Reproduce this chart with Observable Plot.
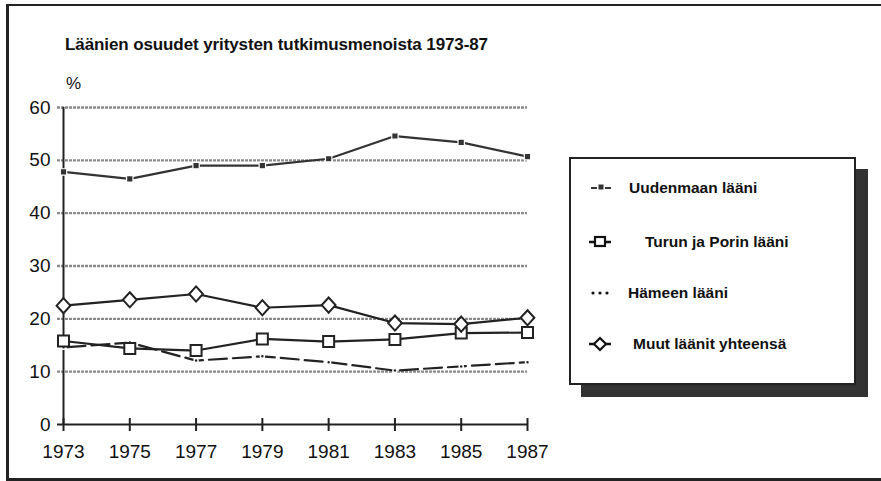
<!DOCTYPE html>
<html>
<head>
<meta charset="utf-8">
<script src="https://cdn.jsdelivr.net/npm/d3@7"></script>
<script src="https://cdn.jsdelivr.net/npm/@observablehq/plot@0.6"></script>
<style>
  html, body { margin: 0; padding: 0; background: #fff; overflow: hidden; }
  #wrap { position: relative; width: 881px; height: 481px; overflow: hidden; font-family: "Liberation Sans", Arial, sans-serif; color: #111; }
  #frame { position: absolute; left: 6px; top: 4px; width: 900px; height: 472px; border: 2px solid #222; border-left-width: 3px; border-bottom-width: 3px; }
  #title { position: absolute; left: 65px; top: 35px; font-weight: bold; font-size: 17px; white-space: nowrap; letter-spacing: -0.1px; }
  #pct { position: absolute; left: 66px; top: 74px; font-size: 17px; }
  #chart { position: absolute; left: 0; top: 0; }
  #shadow { position: absolute; left: 581px; top: 169px; width: 287px; height: 228px; background: #333; }
  #legend { position: absolute; left: 569px; top: 157px; width: 283px; height: 224px; border: 2px solid #222; background: #fff; }
  .item { position: absolute; font-weight: bold; font-size: 15.5px; white-space: nowrap; }
  .item svg { position: absolute; left: -44px; top: -2px; }
</style>
</head>
<body>
<div id="wrap">
  <div id="frame"></div>
  <div id="chart"></div>
  <div id="title"></div>
  <div id="pct">%</div>
  <div id="shadow"></div>
  <div id="legend"></div>
</div>
<script>
const title = "Läänien osuudet yritysten tutkimusmenoista 1973-87";
const years = [1973, 1975, 1977, 1979, 1981, 1983, 1985, 1987];
const yTicks = [0, 10, 20, 30, 40, 50, 60];
const seriesNames = ["Uudenmaan lääni", "Turun ja Porin lääni", "Hämeen lääni", "Muut läänit yhteensä"];
const uusimaa = [47.8, 46.5, 49.0, 49.0, 50.3, 54.6, 53.4, 50.7];
const turkuPori = [15.8, 14.4, 14.0, 16.2, 15.7, 16.1, 17.3, 17.4];
const hame = [14.6, 15.5, 12.1, 12.9, 11.8, 10.2, 11.0, 11.8];
const muut = [22.5, 23.6, 24.7, 22.1, 22.6, 19.2, 19.0, 20.2];

document.getElementById("title").textContent = title;

const mk = (vals, name) => years.map((y, i) => ({year: y, value: vals[i], series: name}));
const dU = mk(uusimaa, seriesNames[0]);
const dT = mk(turkuPori, seriesNames[1]);
const dH = mk(hame, seriesNames[2]);
const dM = mk(muut, seriesNames[3]);

const diamond = {
  draw(context, size) {
    const r = Math.sqrt(size / Math.PI) * 1.25;
    context.moveTo(0, -r * 1.1);
    context.lineTo(r, 0);
    context.lineTo(0, r * 1.1);
    context.lineTo(-r, 0);
    context.closePath();
  }
};

const ink = "#222";
const grid = "#8a8a8a";

const chart = Plot.plot({
  width: 881,
  height: 481,
  marginLeft: 63,
  marginRight: 354,
  marginTop: 107,
  marginBottom: 57,
  style: {fontFamily: "'Liberation Sans', Arial, sans-serif", fontSize: "19px", color: "#111", background: "transparent"},
  x: {domain: [1973, 1987], label: null},
  y: {domain: [0, 60], label: null},
  marks: [
    Plot.ruleY(yTicks.filter(d => d > 0), {x1: 1973, x2: 1987, y: d => d, stroke: grid, strokeWidth: 2.4, strokeDasharray: "3,1", insetLeft: -6}),
    Plot.ruleY([0], {x1: 1973, x2: 1987, y: d => d, stroke: ink, strokeWidth: 2, insetLeft: -6}),
    Plot.ruleX([1973], {x: d => d, y1: 0, y2: 60, stroke: ink, strokeWidth: 2}),
    Plot.ruleX(years, {x: d => d, y1: 0, y2: 0, stroke: ink, strokeWidth: 2, insetTop: -6, insetBottom: -7}),
    Plot.axisY({ticks: yTicks, tickSize: 0, tickPadding: 13, tickFormat: d => String(d), fill: "#111"}),
    Plot.axisX({ticks: years, tickSize: 0, tickPadding: 20, tickFormat: d => String(d), fill: "#111"}),
    // Hämeen lääni
    Plot.line(dH, {x: "year", y: "value", stroke: ink, strokeWidth: 2.2, strokeDasharray: "18,6", strokeDashoffset: -4}),
    Plot.dot(dH, {x: "year", y: "value", r: 2, fill: ink, stroke: "white", strokeWidth: 1.5}),
    // Uudenmaan lääni
    Plot.line(dU, {x: "year", y: "value", stroke: "#333", strokeWidth: 2.2}),
    Plot.dot(dU, {x: "year", y: "value", symbol: "square", r: 3.6, fill: "#333", stroke: "white", strokeWidth: 1.2}),
    // Turun ja Porin lääni
    Plot.line(dT, {x: "year", y: "value", stroke: ink, strokeWidth: 2.2}),
    Plot.dot(dT, {x: "year", y: "value", symbol: "square", r: 6.2, fill: "white", stroke: ink, strokeWidth: 2}),
    // Muut läänit yhteensä
    Plot.line(dM, {x: "year", y: "value", stroke: ink, strokeWidth: 2.2}),
    Plot.dot(dM, {x: "year", y: "value", symbol: diamond, r: 5.5, fill: "white", stroke: ink, strokeWidth: 2})
  ]
});
document.getElementById("chart").appendChild(chart);

// Legend
const legend = document.getElementById("legend");
const legendPos = [
  {left: 58, top: 20},
  {left: 74, top: 74},
  {left: 57, top: 125},
  {left: 62, top: 176}
];
const symbolSvgs = [
  '<svg width="24" height="20"><line x1="2" y1="11" x2="8" y2="11" stroke="#333" stroke-width="2"/><rect x="9.5" y="7.5" width="5" height="5" fill="#333"/><line x1="16" y1="11" x2="22" y2="11" stroke="#333" stroke-width="2"/></svg>',
  '<svg width="24" height="20"><line x1="0" y1="11" x2="22" y2="11" stroke="#111" stroke-width="2.5"/><rect x="6" y="6" width="10" height="9" fill="white" stroke="#111" stroke-width="2.2"/></svg>',
  '<svg width="24" height="20"><circle cx="4" cy="11" r="1.6" fill="#111"/><circle cx="11" cy="11" r="1.6" fill="#111"/><circle cx="18" cy="11" r="1.6" fill="#111"/></svg>',
  '<svg width="24" height="20"><line x1="0" y1="11" x2="22" y2="11" stroke="#111" stroke-width="2.5"/><path d="M11 5 L17 11 L11 17 L5 11 Z" fill="white" stroke="#111" stroke-width="2.2"/></svg>'
];
const symOffsets = [-40, -56, -39, -44];
seriesNames.forEach((name, i) => {
  const div = document.createElement("div");
  div.className = "item";
  div.style.left = legendPos[i].left + "px";
  div.style.top = legendPos[i].top + "px";
  div.innerHTML = symbolSvgs[i];
  div.querySelector("svg").style.left = symOffsets[i] + "px";
  div.appendChild(document.createTextNode(name));
  legend.appendChild(div);
});
</script>
</body>
</html>
